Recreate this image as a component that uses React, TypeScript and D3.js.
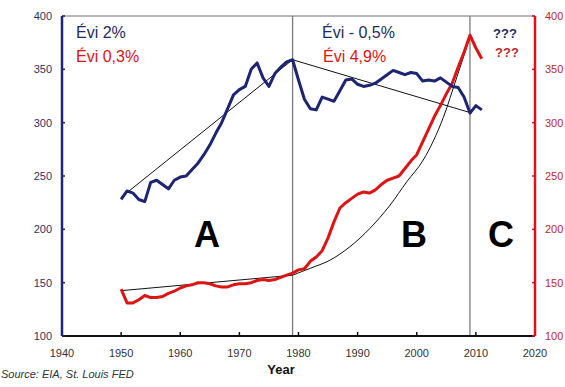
import React from "react";
import * as d3 from "d3";

const years = d3.range(1950, 2012);
const blueValues = [
  228, 236, 234, 228, 226, 244, 246, 242, 238, 246,
  249, 250, 256, 262, 270, 279, 290, 300, 313, 326,
  331, 334, 350, 356, 342, 334, 346, 352, 357, 359,
  340, 322, 313, 312, 324, 322, 320, 330, 340, 341,
  336, 334, 335, 337, 341, 345, 349, 347, 345, 347,
  346, 339, 340, 339, 342, 338, 334, 333, 324, 309,
  316, 312,
];
const redValues = [
  144, 131, 131, 134, 138, 136, 136, 137, 140, 142,
  145, 147, 148, 150, 150, 149, 147, 146, 146, 148,
  149, 149, 150, 152, 153, 152, 153, 155, 157, 159,
  162, 163, 170, 174, 180, 192, 207, 220, 225, 229,
  233, 235, 234, 237, 242, 246, 248, 250, 257, 264,
  270, 282, 294, 306, 316, 327, 337, 352, 366, 382,
  370, 360,
];
const blueTrendA: [number, number][] = [[1950, 230], [1979, 359]];
const blueTrendB: [number, number][] = [[1979, 359], [2009.3, 309]];
const redTrendA: [number, number][] = [[1950, 142.5], [1979, 157]];
const redCurve: [number, number][] = [
  [1979, 157], [1982, 163.5], [1985.3, 171], [1988.7, 183.7], [1992.1, 201],
  [1995.5, 222.8], [1998.3, 244.5], [2001.1, 265], [2004.5, 305],
  [2006.8, 343], [2009, 380],
];
const xTicks = [1940, 1950, 1960, 1970, 1980, 1990, 2000, 2010, 2020];
const yTicks = [100, 150, 200, 250, 300, 350, 400];
const dividers = [1979, 2009];

const NAVY = "#1c2473";
const RED = "#dd1414";

export default function App() {
  const W = 565, H = 387;
  const left = 62, right = 535, top = 16, bottom = 336;
  const x = d3.scaleLinear().domain([1940, 2020]).range([left, right]);
  const yL = d3.scaleLinear().domain([100, 400]).range([bottom, top]);
  const yR = d3.scaleLinear().domain([100, 400]).range([bottom, top]);

  const lineL = d3.line<number>().x((_, i) => x(years[i])).y((d) => yL(d));
  const lineR = d3.line<number>().x((_, i) => x(years[i])).y((d) => yR(d));
  const segL = d3.line<[number, number]>().x((d) => x(d[0])).y((d) => yL(d[1]));
  const segR = d3.line<[number, number]>().x((d) => x(d[0])).y((d) => yR(d[1]));
  const curveR = d3
    .line<[number, number]>()
    .x((d) => x(d[0]))
    .y((d) => yR(d[1]))
    .curve(d3.curveMonotoneX);

  const font = "'Liberation Sans', Arial, sans-serif";

  return (
    <svg
      width={W}
      height={H}
      style={{ position: "fixed", left: 0, top: 0, background: "#fff" }}
      fontFamily={font}
    >
      <rect x={0} y={0} width={W} height={H} fill="#fff" />
      {/* top frame */}
      <line x1={left} x2={right} y1={top} y2={top} stroke="#a0a0a0" strokeWidth={1.5} />
      {/* dividers */}
      {dividers.map((d) => (
        <line key={d} x1={x(d)} x2={x(d)} y1={top} y2={bottom} stroke="#7a7a7a" strokeWidth={1.3} />
      ))}
      {/* trend lines */}
      <path d={segL(blueTrendA) || ""} fill="none" stroke="#111" strokeWidth={1} />
      <path d={segL(blueTrendB) || ""} fill="none" stroke="#111" strokeWidth={1} />
      <path d={segR(redTrendA) || ""} fill="none" stroke="#111" strokeWidth={1} />
      <path d={curveR(redCurve) || ""} fill="none" stroke="#111" strokeWidth={1} />
      {/* series */}
      <path d={lineR(redValues) || ""} fill="none" stroke={RED} strokeWidth={3} strokeLinejoin="round" />
      <path d={lineL(blueValues) || ""} fill="none" stroke={NAVY} strokeWidth={3} strokeLinejoin="round" />

      {/* bottom axis */}
      <line x1={left} x2={right} y1={bottom} y2={bottom} stroke="#111" strokeWidth={2} />
      {xTicks.map((t) => (
        <g key={t}>
          <line x1={x(t)} x2={x(t)} y1={bottom} y2={bottom - 4} stroke="#111" strokeWidth={1.5} />
          <text x={x(t)} y={357} textAnchor="middle" fontSize={11} fill="#333">
            {t}
          </text>
        </g>
      ))}
      {/* left axis */}
      <line x1={left} x2={left} y1={top} y2={bottom} stroke={NAVY} strokeWidth={2.5} />
      {yTicks.map((t) => (
        <g key={t}>
          <line x1={left} x2={left + 3} y1={yL(t)} y2={yL(t)} stroke={NAVY} strokeWidth={1.5} />
          <text x={52} y={yL(t) + 4} textAnchor="end" fontSize={11} fill="#2a3468">
            {t}
          </text>
        </g>
      ))}
      {/* right axis */}
      <line x1={right} x2={right} y1={top} y2={bottom} stroke={RED} strokeWidth={2.5} />
      {yTicks.map((t) => (
        <g key={t}>
          <line x1={right} x2={right - 3} y1={yR(t)} y2={yR(t)} stroke={RED} strokeWidth={1.5} />
          <text x={545} y={yR(t) + 4} textAnchor="start" fontSize={11} fill="#c0282a">
            {t}
          </text>
        </g>
      ))}

      {/* annotations */}
      <text x={76} y={38} fontSize={16} fill="#1f2a5c">Évi 2%</text>
      <text x={76} y={62} fontSize={16} fill={RED}>Évi 0,3%</text>
      <text x={322} y={38} fontSize={16} fill="#1f2a5c">Évi - 0,5%</text>
      <text x={323} y={62} fontSize={16} fill={RED}>Évi 4,9%</text>
      <text x={493} y={38} fontSize={13} fontWeight="bold" fill="#1f2a5c">???</text>
      <text x={495} y={57} fontSize={13} fontWeight="bold" fill="#c0282a">???</text>

      <text x={207} y={247} fontSize={36} fontWeight="bold" textAnchor="middle" fill="#000">A</text>
      <text x={414} y={247} fontSize={36} fontWeight="bold" textAnchor="middle" fill="#000">B</text>
      <text x={501} y={247} fontSize={36} fontWeight="bold" textAnchor="middle" fill="#000">C</text>

      <text x={281} y={374} fontSize={13} fontWeight="bold" textAnchor="middle" fill="#111">Year</text>
      <text x={1} y={378} fontSize={11} fontStyle="italic" fill="#333">Source: EIA, St. Louis FED</text>
    </svg>
  );
}
